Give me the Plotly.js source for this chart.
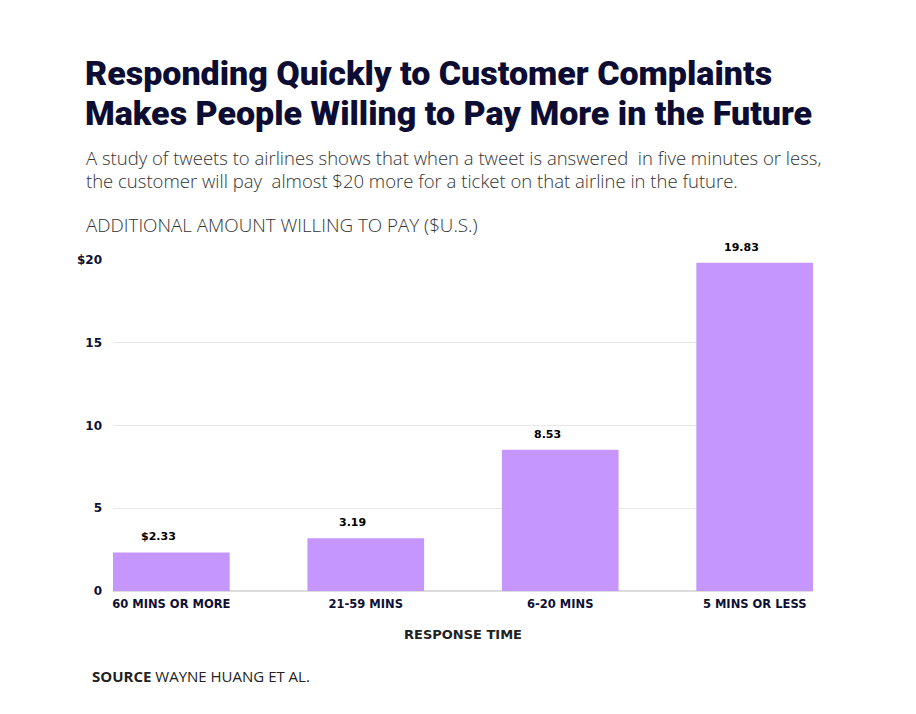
<!DOCTYPE html>
<html>
<head>
<meta charset="utf-8">
<script src="https://cdn.plot.ly/plotly-3.0.1.min.js"></script>
<style>
html,body{margin:0;padding:0;background:#fff;}
#chart{width:916px;height:714px;}
</style>
</head>
<body>
<div id="chart"></div>
<script>
const categories = ["60 MINS OR MORE", "21-59 MINS", "6-20 MINS", "5 MINS OR LESS"];
const values = [2.33, 3.19, 8.53, 19.83];
const valuePrefixes = ["$", "", "", ""];
const yTickVals = [0, 5, 10, 15, 20];
const yTickText = ["0", "5", "10", "15", "$20"];

const navy = "#0f1035";
const labelFont = "DejaVu Sans, Open Sans, sans-serif";
const titleFont = "Roboto, sans-serif";

const barTrace = {
  type: "bar",
  x: categories,
  y: values,
  marker: {color: "#c596fd"},
  hoverinfo: "none"
};

const valueAnnotations = values.map((v, i) => ({
  x: categories[i], y: v, xref: "x", yref: "y",
  text: "<b>" + valuePrefixes[i] + v.toFixed(2) + "</b>",
  showarrow: false, yanchor: "bottom", yshift: 7, xshift: -13,
  font: {family: labelFont, size: 11, color: "#000"}
}));

const layout = {
  width: 916, height: 714,
  paper_bgcolor: "#fff", plot_bgcolor: "#fff",
  margin: {l: 113, r: 103, t: 260, b: 123},
  showlegend: false,
  bargap: 0.4,
  xaxis: {
    type: "category",
    range: [-0.3, 3.3],
    showgrid: false, showline: false, zeroline: false,
    ticks: "",
    ticklabelstandoff: 4,
    tickfont: {family: labelFont, size: 11.5, color: navy, weight: "bold"},
    title: {text: "<b>RESPONSE TIME</b>", standoff: 20,
            font: {family: labelFont, size: 13, color: "#222"}},
    fixedrange: true
  },
  yaxis: {
    range: [0, 20],
    tickvals: yTickVals, ticktext: yTickText,
    showgrid: true, gridcolor: "#e8e8e8", gridwidth: 1,
    zeroline: true, zerolinecolor: "#dcdcdc", zerolinewidth: 2,
    showline: false, ticks: "",
    ticklabelstandoff: 10,
    tickfont: {family: labelFont, size: 12, color: navy, weight: "bold"},
    fixedrange: true
  },
  annotations: [
    {xref: "paper", yref: "paper", x: -0.041, y: 1, xanchor: "left", yanchor: "middle",
     yshift: 35, showarrow: false, align: "left",
     text: "ADDITIONAL AMOUNT WILLING TO PAY ($U.S.)",
     font: {family: "Open Sans, sans-serif", size: 18.8, color: "#333", weight: 300}},
    {xref: "paper", yref: "paper", x: -0.033, y: 0, xanchor: "left", yanchor: "middle",
     yshift: -85, showarrow: false, align: "left",
     text: "<b>SOURCE</b> WAYNE HUANG ET AL.",
     font: {family: "Open Sans, sans-serif", size: 15, color: "#222"}},
    {xref: "paper", yref: "paper", x: -0.041, y: 1, xanchor: "left", yanchor: "middle",
     yshift: 103, showarrow: false, align: "left",
     text: "A study of tweets to airlines shows that when a tweet is answered  in five minutes or less,",
     font: {family: "Open Sans, sans-serif", size: 18.5, color: "#333", weight: 300}},
    {xref: "paper", yref: "paper", x: -0.041, y: 1, xanchor: "left", yanchor: "middle",
     yshift: 80, showarrow: false, align: "left",
     text: "the customer will pay  almost $20 more for a ticket on that airline in the future.",
     font: {family: "Open Sans, sans-serif", size: 18.5, color: "#333", weight: 300}},
    {xref: "paper", yref: "paper", x: -0.043, y: 1, xanchor: "left", yanchor: "middle",
     yshift: 187, showarrow: false, align: "left",
     text: "Responding Quickly to Customer Complaints",
     font: {family: titleFont, size: 34, color: "#0d0d33", weight: 900}},
    {xref: "paper", yref: "paper", x: -0.043, y: 1, xanchor: "left", yanchor: "middle",
     yshift: 147, showarrow: false, align: "left",
     text: "Makes People Willing to Pay More in the Future",
     font: {family: titleFont, size: 34, color: "#0d0d33", weight: 900}}
  ].concat(valueAnnotations)
};

Plotly.newPlot("chart", [barTrace], layout, {displayModeBar: false, staticPlot: true});
</script>
</body>
</html>
